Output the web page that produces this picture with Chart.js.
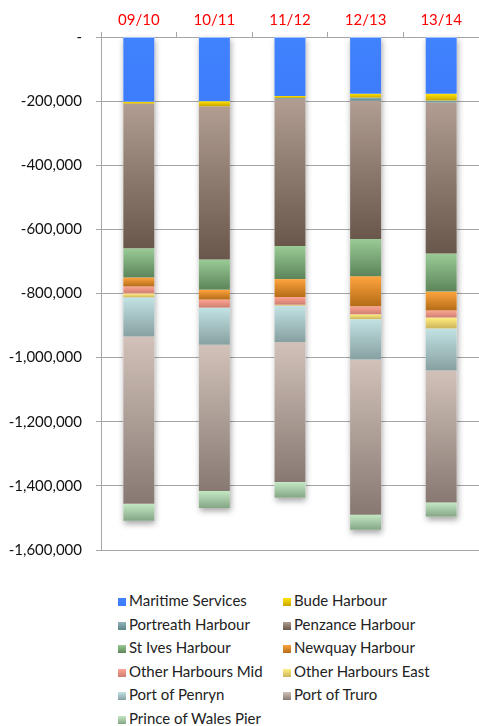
<!DOCTYPE html>
<html>
<head>
<meta charset="utf-8">
<script src="https://cdn.jsdelivr.net/npm/chart.js@4.4.0/dist/chart.umd.min.js"></script>
<style>
  body { margin: 0; background: #fff; font-family: Lato, "Open Sans", sans-serif; }
  #wrap { position: relative; width: 479px; height: 573px; }
  #legend { position: absolute; left: 0; top: 590px; width: 479px; }
  .item { position: absolute; height: 20px; line-height: 20px; font-size: 15px; color: #222; white-space: nowrap; }
  .box { display: inline-block; width: 8px; height: 8px; margin-right: 3px; vertical-align: 0px; }
</style>
</head>
<body>
<div id="wrap"><canvas id="myChart"></canvas></div>
<div id="legend"></div>
<script>
const years = ['09/10', '10/11', '11/12', '12/13', '13/14'];
const yTicks = [0, -200000, -400000, -600000, -800000, -1000000, -1200000, -1400000, -1600000];

const maritimeServices  = [-202000, -200000, -184000, -177000, -177000];
const budeHarbour       = [-6000, -16000, -6000, -12000, -21000];
const portreathHarbour  = [0, 0, -3000, -10000, -6000];
const penzanceHarbour   = [-451000, -478000, -459000, -431000, -471000];
const stIvesHarbour     = [-91000, -94000, -103000, -116000, -119000];
const newquayHarbour    = [-28000, -31000, -56000, -94000, -59000];
const otherHarboursMid  = [-22000, -25000, -24000, -25000, -22000];
const otherHarboursEast = [-12000, 0, -3000, -15000, -34000];
const portOfPenryn      = [-122000, -116000, -113000, -126000, -131000];
const portOfTruro       = [-522000, -456000, -437000, -484000, -412000];
const princeOfWalesPier = [-53000, -53000, -49000, -47000, -44000];

// name, values, gradient top, gradient bottom
const series = [
    ['Maritime Services', maritimeServices, '#4182ff', '#3d7cfb'],
    ['Bude Harbour', budeHarbour, '#ffe400', '#c9a600'],
    ['Portreath Harbour', portreathHarbour, '#8fb6b8', '#5c8587'],
    ['Penzance Harbour', penzanceHarbour, '#b19d92', '#69574b'],
    ['St Ives Harbour', stIvesHarbour, '#9acb96', '#5c855a'],
    ['Newquay Harbour', newquayHarbour, '#ffa43e', '#b46c17'],
    ['Other Harbours Mid', otherHarboursMid, '#ffa494', '#cc7e70'],
    ['Other Harbours East', otherHarboursEast, '#fff07f', '#cdb45c'],
    ['Port of Penryn', portOfPenryn, '#c2e2e3', '#87a0a1'],
    ['Port of Truro', portOfTruro, '#d1c1b9', '#877972'],
    ['Prince of Wales Pier', princeOfWalesPier, '#c3e7c3', '#85a685'],
];

function stackStart(dsIndex, i) {
    let s = 0;
    for (let k = 0; k < dsIndex; k++) s += series[k][1][i];
    return s;
}

function gradientFor(context) {
    const chart = context.chart;
    const y = chart.scales.y;
    if (!y || context.dataIndex === undefined) return series[context.datasetIndex][2];
    const s = series[context.datasetIndex];
    const start = stackStart(context.datasetIndex, context.dataIndex);
    const end = start + s[1][context.dataIndex];
    const y0 = y.getPixelForValue(start);
    const y1 = y.getPixelForValue(end);
    if (!isFinite(y0) || !isFinite(y1) || y0 === y1) return s[2];
    const g = chart.ctx.createLinearGradient(0, y0, 0, y1);
    g.addColorStop(0, s[2]);
    g.addColorStop(1, s[3]);
    return g;
}

const barShadow = {
    id: 'barShadow',
    beforeDatasetsDraw(chart) {
        const ctx = chart.ctx;
        const y = chart.scales.y;
        const meta = chart.getDatasetMeta(0);
        ctx.save();
        ctx.shadowColor = 'rgba(0,0,0,0.35)';
        ctx.shadowBlur = 6;
        ctx.shadowOffsetX = 1;
        ctx.shadowOffsetY = 3;
        ctx.fillStyle = '#fff';
        meta.data.forEach((bar, i) => {
            const total = stackStart(series.length, i);
            const top = y.getPixelForValue(0);
            const bottom = y.getPixelForValue(total);
            ctx.fillRect(bar.x - bar.width / 2, top, bar.width, bottom - top);
        });
        ctx.restore();
    }
};

const ctx = document.getElementById('myChart').getContext('2d');
const chart = new Chart(ctx, {
    type: 'bar',
    data: {
        labels: years,
        datasets: series.map(([label, data]) => ({
            label: label,
            data: data,
            backgroundColor: gradientFor,
            borderWidth: 0,
            barPercentage: 0.41,
            categoryPercentage: 1,
        })),
    },
    options: {
        responsive: true,
        maintainAspectRatio: false,
        animation: false,
        layout: { padding: { left: 0, right: 0, top: 0, bottom: 0 } },
        plugins: {
            legend: { display: false },
            tooltip: { enabled: false },
        },
        scales: {
            x: {
                position: 'top',
                stacked: true,
                afterFit: (scale) => { scale.height = 37; },
                grid: { offset: true, drawOnChartArea: false, tickLength: 5, color: '#a6a6a6' },
                border: { color: '#a6a6a6' },
                ticks: { color: '#ff0000', font: { family: 'Lato', size: 15 }, padding: 3 },
            },
            y: {
                stacked: true,
                min: -1600000,
                max: 0,
                afterFit: (scale) => { scale.width = 101; },
                afterBuildTicks: (scale) => { scale.ticks = yTicks.map(v => ({ value: v })); },
                grid: { color: '#a6a6a6', tickLength: 5 },
                border: { color: '#a6a6a6' },
                ticks: {
                    color: '#111',
                    font: { family: 'Lato', size: 15 },
                    padding: 14,
                    callback: (v) => v === 0 ? '-' : v.toLocaleString('en-US'),
                },
            },
        },
    },
    plugins: [barShadow],
});

// two column legend
const legend = document.getElementById('legend');
series.forEach(([label, , top, bottom], i) => {
    const item = document.createElement('div');
    item.className = 'item';
    item.style.left = (i % 2 === 0 ? 118 : 283) + 'px';
    item.style.top = (Math.floor(i / 2) * 23.6) + 'px';
    const box = document.createElement('span');
    box.className = 'box';
    box.style.background = `linear-gradient(${top}, ${bottom})`;
    item.appendChild(box);
    item.appendChild(document.createTextNode(label));
    legend.appendChild(item);
});
</script>
</body>
</html>
